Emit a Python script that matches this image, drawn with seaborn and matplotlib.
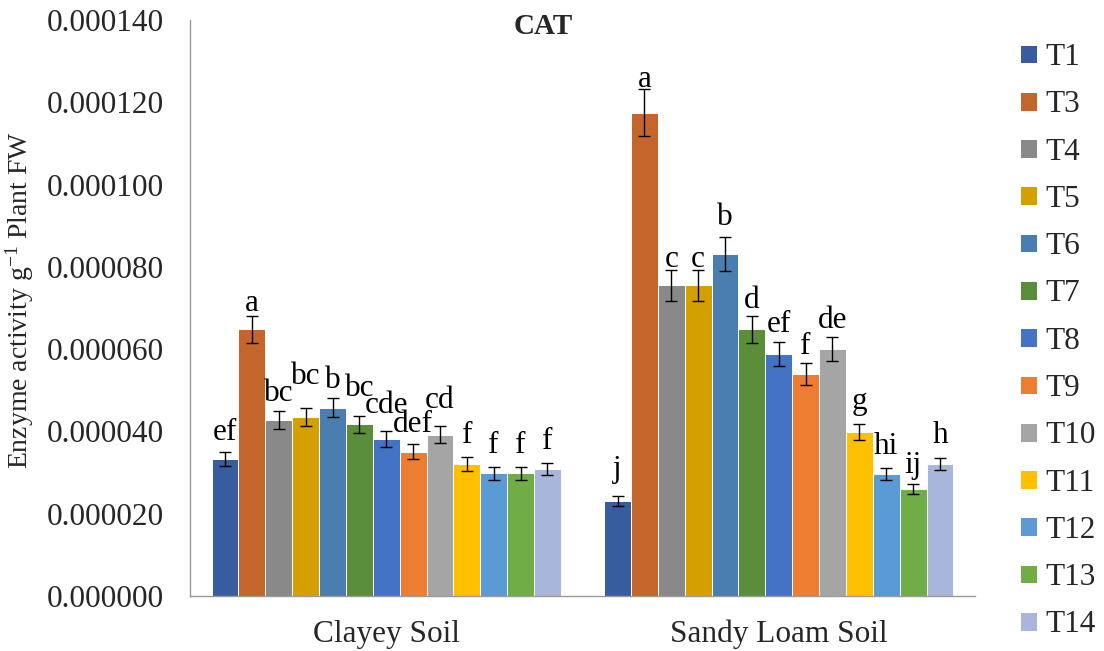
import matplotlib
matplotlib.use("Agg")
import matplotlib.pyplot as plt
from matplotlib.container import BarContainer
import seaborn as sns
import pandas as pd
import numpy as np

# ---- data ----
soils = ["Clayey Soil", "Sandy Loam Soil"]
treatments = ["T1", "T3", "T4", "T5", "T6", "T7", "T8", "T9", "T10", "T11", "T12", "T13", "T14"]
clayey_mean = [3.34e-5, 6.48e-5, 4.28e-5, 4.35e-5, 4.58e-5, 4.17e-5, 3.81e-5, 3.51e-5, 3.92e-5, 3.21e-5, 2.98e-5, 2.98e-5, 3.09e-5]
clayey_err = [1.7e-6, 3.2e-6, 2.2e-6, 2.2e-6, 2.3e-6, 2.1e-6, 1.9e-6, 1.8e-6, 2.0e-6, 1.6e-6, 1.5e-6, 1.5e-6, 1.5e-6]
clayey_letters = ["ef", "a", "bc", "bc", "b", "bc", "cde", "def", "cd", "f", "f", "f", "f"]
sandy_mean = [2.31e-5, 1.175e-4, 7.55e-5, 7.55e-5, 8.32e-5, 6.48e-5, 5.88e-5, 5.40e-5, 6.00e-5, 3.99e-5, 2.97e-5, 2.60e-5, 3.21e-5]
sandy_err = [1.2e-6, 5.8e-6, 3.7e-6, 3.7e-6, 4.1e-6, 3.3e-6, 2.9e-6, 2.7e-6, 3.0e-6, 2.0e-6, 1.5e-6, 1.3e-6, 1.5e-6]
sandy_letters = ["j", "a", "c", "c", "b", "d", "ef", "f", "de", "g", "hi", "ij", "h"]
y_ticks = [0.0, 0.00002, 0.00004, 0.00006, 0.00008, 0.00010, 0.00012, 0.00014]

colors = ["#385D9F", "#C4662B", "#898989", "#D4A000", "#4A7EB0", "#5A8E3A", "#4472C4",
          "#ED7D31", "#A5A5A5", "#FFC000", "#5B9BD5", "#70AD47", "#A8B6DB"]

# layout: extra vertical nudge (points) of each letter label, as placed in the reference
clayey_label_nudge = [1.5, -3, 0, 10, 0, 7, 6, 2, 6, 3.5, 3, 3, 3]
sandy_label_nudge = [7, -6, -5, -5, 1.5, -1.5, 0, -0.5, -0.5, 3.5, 3, 0.7, 3.5]

# ---- frame ----
rows = []
for s, means, errs, lets, nud in [(soils[0], clayey_mean, clayey_err, clayey_letters, clayey_label_nudge),
                                  (soils[1], sandy_mean, sandy_err, sandy_letters, sandy_label_nudge)]:
    for t, m, e, l, n in zip(treatments, means, errs, lets, nud):
        rows.append({"Soil": s, "Treatment": t, "value": m, "err": e, "letter": l, "nudge": n})
df = pd.DataFrame(rows)

sns.set_style("white")
plt.rcParams["font.family"] = ["Liberation Serif", "DejaVu Serif"]
plt.rcParams["mathtext.fontset"] = "custom"
plt.rcParams["mathtext.rm"] = "Liberation Serif"
plt.rcParams["mathtext.it"] = "Liberation Serif:italic"

FS = 22.5
fig = plt.figure(figsize=(11.04, 6.51), dpi=100)
ax = fig.add_axes([190 / 1104, 1 - 596 / 651, (975 - 190) / 1104, (596 - 20) / 651])

sns.barplot(data=df, x="Soil", y="value", hue="Treatment", order=soils, hue_order=treatments,
            palette=colors, errorbar=None, width=0.89, edgecolor="white", linewidth=0.7,
            saturation=1, ax=ax)

gray = "#9A9A9A"
bar_containers = [c for c in ax.containers if isinstance(c, BarContainer)]
for ti, cont in enumerate(bar_containers):
    t = treatments[ti]
    for si, bar in enumerate(cont):
        row = df[(df.Soil == soils[si]) & (df.Treatment == t)].iloc[0]
        xc = bar.get_x() + bar.get_width() / 2
        ax.errorbar(xc, row.value, yerr=row.err, fmt="none", ecolor="black",
                    elinewidth=1.0, capsize=4.5, capthick=1.0, zorder=5)
        ax.annotate(row.letter, (xc, row.value + row.err), xytext=(0, 2 + row.nudge),
                    textcoords="offset points", ha="center", va="bottom",
                    fontsize=FS, color="black", zorder=6)

ax.set_ylim(0, 0.00014)
ax.set_xlim(-0.5, 1.5)
ax.set_yticks(y_ticks)
ax.set_yticklabels([f"{v:.6f}" for v in y_ticks])
ax.tick_params(axis="y", which="major", length=5, width=1, color=gray, pad=14, labelsize=FS)
ax.tick_params(axis="x", which="major", length=0, pad=17, labelsize=FS)
ax.set_xticks([-0.5, 0.5, 1.5], minor=True)
ax.tick_params(axis="x", which="minor", length=7, width=1, color=gray, direction="out")
ax.set_xlabel("")
ax.set_ylabel(r"Enzyme activity g$^{\mathrm{-1}}$ Plant FW", fontsize=20)
ax.yaxis.set_label_coords(-0.196, 0.514)

for sp in ["top", "right"]:
    ax.spines[sp].set_visible(False)
for sp in ["left", "bottom"]:
    ax.spines[sp].set_color(gray)
    ax.spines[sp].set_linewidth(1.0)

# legend
handles, labels = ax.get_legend_handles_labels()
if ax.get_legend() is not None:
    ax.get_legend().remove()
fig.legend(handles, labels, loc="upper left", bbox_to_anchor=(1020 / 1104, 1 - 43 / 651),
           bbox_transform=fig.transFigure, frameon=False, fontsize=FS, borderpad=0,
           borderaxespad=0, handlelength=0.55, handleheight=0.55, handletextpad=0.27,
           labelspacing=0.585)

fig.text(543 / 1104, 1 - 34 / 651, "CAT", ha="center", va="baseline",
         fontsize=21, fontweight="bold")

fig.savefig("out.png", dpi=100)
